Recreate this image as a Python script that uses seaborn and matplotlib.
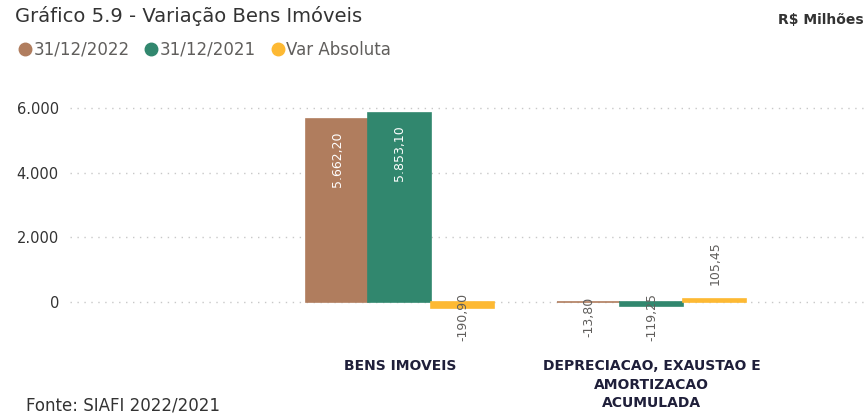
import matplotlib
matplotlib.use("Agg")
import matplotlib.pyplot as plt
import matplotlib.ticker as mticker
from matplotlib.lines import Line2D
import pandas as pd
import seaborn as sns

# data (R$ milhões)
categories = ["BENS IMOVEIS", "DEPRECIACAO, EXAUSTAO E\nAMORTIZACAO\nACUMULADA"]
series = ["31/12/2022", "31/12/2021", "Var Absoluta"]
v_2022 = [5662.20, -13.80]
v_2021 = [5853.10, -119.25]
v_var = [-190.90, 105.45]

colors = ["#B07D5E", "#31876E", "#FDB933"]

rows = []
for s, vals in zip(series, [v_2022, v_2021, v_var]):
    for c, v in zip(categories, vals):
        rows.append({"categoria": c, "serie": s, "valor": v})
df = pd.DataFrame(rows)

sns.set_style("white")
plt.rcParams['font.family'] = ['DejaVu Sans']

fig = plt.figure(figsize=(8.66, 4.13), dpi=100)
ax = fig.add_axes([70 / 866, 1 - 340 / 413, 796 / 866, 250 / 413])

sns.barplot(data=df, x="categoria", y="valor", hue="serie", palette=colors,
            hue_order=series, order=categories, width=0.75, ax=ax,
            saturation=1, linewidth=0, legend=False)

# thin outline in the bar colour so that tiny bars stay visible
for patch in ax.patches:
    if patch.get_width() > 0:
        patch.set_edgecolor(patch.get_facecolor())
        patch.set_linewidth(1.2)

ax.set_xlim(-1.31, 1.85)
ax.set_ylim(-1175, 6550)
ax.set_yticks([0, 2000, 4000, 6000])
ax.yaxis.set_major_formatter(mticker.FuncFormatter(lambda v, p: f"{int(v):,}".replace(",", ".")))
ax.grid(axis="y", color="#C8C8C8", linestyle=(0, (1, 4)), linewidth=1)
ax.set_axisbelow(True)
for sp in ax.spines.values():
    sp.set_visible(False)
ax.tick_params(axis="both", length=0)
ax.tick_params(axis="y", labelsize=10.5, labelcolor="#333333", pad=8)
ax.tick_params(axis="x", labelsize=10, pad=14)
for lab in ax.get_xticklabels():
    lab.set_fontweight("bold")
    lab.set_color("#1F1F3A")
    lab.set_linespacing(1.4)
ax.set_xlabel("")
ax.set_ylabel("")

# bar value labels
for patch in ax.patches:
    h = patch.get_height()
    if patch.get_width() == 0:
        continue
    x = patch.get_x() + patch.get_width() / 2
    txt = f"{h:,.2f}".replace(",", "X").replace(".", ",").replace("X", ".")
    if h > 1000:
        ax.annotate(txt, (x, h), xytext=(0, -9), textcoords="offset points",
                    rotation=90, ha="center", va="top", color="white", fontsize=9)
    elif h >= 0:
        ax.annotate(txt, (x, h), xytext=(0, 10), textcoords="offset points",
                    rotation=90, ha="center", va="bottom", color="#605E5C", fontsize=9)
    else:
        ax.annotate(txt, (x, 0), xytext=(0, -11), textcoords="offset points",
                    rotation=90, ha="center", va="center", color="#605E5C", fontsize=9)

fig.text(15 / 866, 1 - 16 / 413, "Gráfico 5.9 - Variação Bens Imóveis", fontsize=14,
         color="#333333", va="center", ha="left")
fig.text(864 / 866, 1 - 20 / 413, "R$ Milhões", fontsize=10, fontweight="bold",
         color="#333333", va="center", ha="right")
fig.text(26 / 866, 1 - 405 / 413, "Fonte: SIAFI 2022/2021", fontsize=12,
         color="#333333", va="center", ha="left")

handles = [Line2D([0], [0], marker="o", linestyle="", markersize=9,
                  markerfacecolor=c, markeredgecolor=c) for c in colors]
fig.legend(handles, series, loc="center left", bbox_to_anchor=(2 / 866, 1 - 50 / 413),
           ncol=3, frameon=False, handletextpad=0.0, columnspacing=0.8,
           handlelength=1.0, fontsize=12, labelcolor="#605E5C")

fig.savefig("out.png", dpi=100)
